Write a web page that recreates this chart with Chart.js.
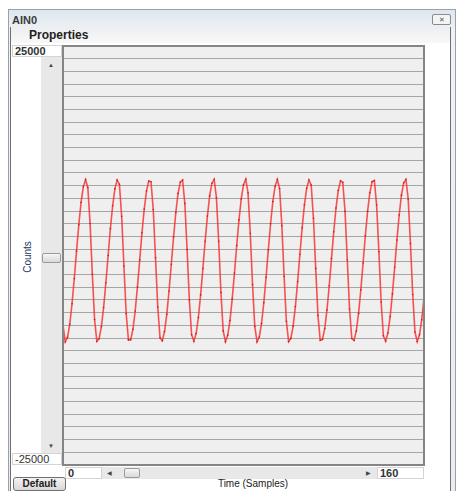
<!DOCTYPE html>
<html>
<head>
<meta charset="utf-8">
<script src="https://cdn.jsdelivr.net/npm/chart.js@4"></script>
<style>
  body { margin: 0; width: 458px; height: 491px; background: #fff; position: relative; overflow: hidden;
         font-family: "Liberation Sans", Arial, sans-serif; }
  .abs { position: absolute; box-sizing: border-box; }
  .frame { left: 8px; top: 9px; width: 448px; height: 482px; border: 1px solid #98a1ab; border-bottom: none;
           background: linear-gradient(#dfe6ee, #eef2f6 20px, #e9edf2); }
  .client { left: 10px; top: 27px; width: 441px; height: 464px; background: #fff;
            border-left: 1px solid #6f6f6f; border-right: 1px solid #6f6f6f; }
  .props { left: 11px; top: 27px; width: 439px; height: 16px; background: linear-gradient(#eceef0, #f8f8f8); }
  .tb { background: #fff; border: 1px solid #d4d4d4; font-size: 11px; line-height: 11px; color: #333; padding-left: 2px; font-weight: bold; }
  .sb { background: #e8e8e8; }
  .thumb { border: 1px solid #9a9a9a; border-radius: 2px; background: linear-gradient(#f6f6f6, #d9d9d9); }
  .arrow { font-size: 6px; color: #444; line-height: 6px; }
  #c { position: absolute; left: 0; top: 0; }
</style>
</head>
<body>
<div class="abs frame"></div>
<div class="abs" style="left:12px;top:14px;font-size:11px;font-weight:bold;color:#3c3c3c;">AIN0</div>
<div class="abs" style="left:432px;top:14px;width:19px;height:11px;border:1px solid #8a8a8a;border-radius:2px;background:#f4f4f4;font-size:7px;line-height:9px;text-align:center;color:#555;">&#10005;</div>
<div class="abs client"></div>
<div class="abs props"></div>
<div class="abs" style="left:29px;top:28px;font-size:12px;font-weight:bold;color:#222;">Properties</div>

<div class="abs tb" id="yMaxBox" style="left:12px;top:45px;width:50px;height:12px;"></div>
<div class="abs sb" style="left:41px;top:57px;width:21px;height:396px;"></div>
<div class="abs arrow" style="left:48px;top:62px;">&#9650;</div>
<div class="abs arrow" style="left:48px;top:443px;">&#9660;</div>
<div class="abs thumb" style="left:42px;top:253px;width:19px;height:10px;"></div>
<div class="abs" style="left:27px;top:257px;width:0;height:0;">
  <div style="position:absolute;transform:translate(-50%,-50%) rotate(-90deg);font-size:10px;color:#1d3563;white-space:nowrap;">Counts</div>
</div>
<div class="abs tb" id="yMinBox" style="left:12px;top:453px;width:50px;height:12px;font-weight:normal;"></div>

<div class="abs tb" id="xMinBox" style="left:65px;top:467px;width:37px;height:12px;"></div>
<div class="abs sb" style="left:102px;top:467px;width:275px;height:12px;"></div>
<div class="abs arrow" style="left:107px;top:470px;">&#9664;</div>
<div class="abs arrow" style="left:366px;top:470px;">&#9654;</div>
<div class="abs thumb" style="left:124px;top:468px;width:16px;height:10px;"></div>
<div class="abs tb" id="xMaxBox" style="left:377px;top:467px;width:47px;height:12px;"></div>
<div class="abs" style="left:13px;top:477px;width:53px;height:14px;border:1px solid #707070;border-radius:3px;background:linear-gradient(#f3f3f3,#d8d8d8);font-size:10px;font-weight:bold;line-height:12px;text-align:center;color:#222;">Default</div>
<div class="abs" style="left:253px;top:478px;width:0;"><div style="position:absolute;transform:translateX(-50%);font-size:10px;color:#222;white-space:nowrap;">Time (Samples)</div></div>

<canvas id="c" width="458" height="491"></canvas>
<script>
// y axis range, grid step, x axis range
const yRange = [-25000, 25000];
const gridStep = 1500;
const xRange = [0, 160];

// AIN0 counts, one per sample (0..160)
const counts = [
  -8300, -10300, -9770, -8200, -5760, -2740, 520, 3660, 6320, 8190,
  9050, 8120, 3820, -2240, -7650, -10240, -9930, -8510, -6200, -3250,
  0, 3190, 5940, 7950, 8990, 8510, 4680, -1250, -6920, -10070,
  -10060, -8800, -6620, -3750, -520, 2700, 5540, 7690, 8890, 8800,
  5490, -260, -6150, -9820, -10160, -9070, -7020, -4230, -1040, 2200,
  5130, 7410, 8760, 9000, 6220, 730, -5300, -9450, -10230, -9310,
  -7400, -4700, -1560, 1700, 4700, 7110, 8630, 9090, 6900, 1700,
  -4410, -9000, -10280, -9530, -7760, -5180, -2080, 1190, 4250, 6750,
  8450, 9100, 7490, 2660, -3470, -8460, -10300, -9720, -8110, -5640,
  -2600, 670, 3790, 6430, 8250, 9070, 7990, 3560, -2510, -7840,
  -10270, -9890, -8430, -6080, -3100, 150, 3320, 6050, 8020, 9010,
  8410, 4450, -1540, -7140, -10120, -10020, -8720, -6500, -3610, -370,
  2840, 5660, 7760, 8920, 8730, 5260, -540, -6380, -9900, -10130,
  -9000, -6910, -4100, -890, 2350, 5260, 7490, 8810, 8950, 6020,
  450, -5540, -9570, -10220, -9250, -7290, -4580, -1410, 1840, 4830,
  7200, 8670, 9070, 6710, 1420, -4660, -9130, -10270, -9470, -7660,
  -5050
];

document.getElementById('yMaxBox').textContent = yRange[1];
document.getElementById('yMinBox').textContent = yRange[0];
document.getElementById('xMinBox').textContent = xRange[0];
document.getElementById('xMaxBox').textContent = xRange[1];

const plotFrame = {
  id: 'plotFrame',
  beforeDraw(chart) {
    const a = chart.chartArea, c = chart.ctx;
    c.save();
    c.fillStyle = '#efefef';
    c.fillRect(a.left, a.top, a.right - a.left, a.bottom - a.top);
    c.restore();
  },
  afterDraw(chart) {
    const a = chart.chartArea, c = chart.ctx;
    c.save();
    c.strokeStyle = '#858585';
    c.lineWidth = 2;
    c.strokeRect(a.left, a.top, a.right - a.left, a.bottom - a.top);
    c.restore();
  }
};

const ctx = document.getElementById('c').getContext('2d');
const chart = new Chart(ctx, {
  type: 'line',
  data: {
    labels: counts.map((_, i) => i),
    datasets: [{
      label: 'AIN0',
      data: counts,
      borderColor: 'rgba(250, 40, 40, 0.8)',
      borderWidth: 1.6,
      pointRadius: 0.8,
      pointBorderWidth: 0,
      pointBackgroundColor: '#c81818',
      tension: 0
    }]
  },
  options: {
    responsive: false,
    animation: false,
    devicePixelRatio: 1,
    layout: { padding: { left: 63, top: 46, right: 34, bottom: 26 } },
    plugins: { legend: { display: false }, tooltip: { enabled: false } },
    scales: {
      x: { display: false },
      y: {
        min: yRange[0],
        max: yRange[1],
        ticks: { display: false, stepSize: gridStep },
        border: { display: false },
        grid: {
          drawTicks: false,
          lineWidth: 1,
          color: (c) => (c.tick && c.tick.value === 0 ? '#686868' : '#a6a6a6')
        }
      }
    }
  },
  plugins: [plotFrame]
});
</script>
</body>
</html>
